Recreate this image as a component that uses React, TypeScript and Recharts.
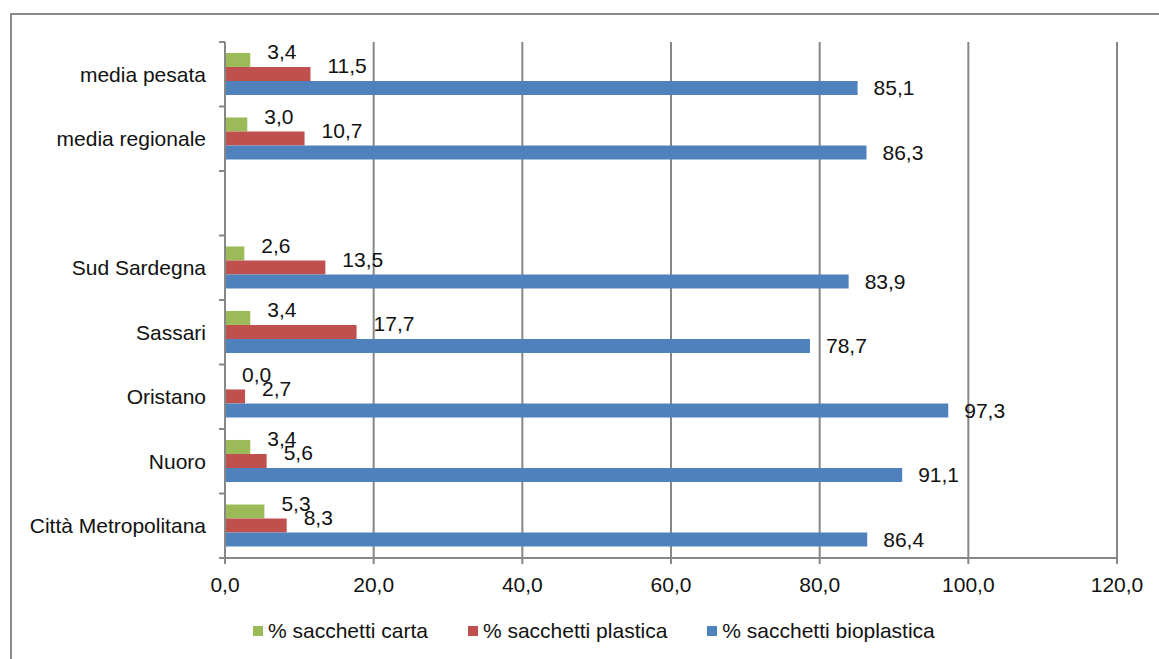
import { BarChart, Bar, XAxis, YAxis, CartesianGrid, Legend, LabelList } from 'recharts'

const CATEGORIES = ['media pesata', 'media regionale', ' ', 'Sud Sardegna', 'Sassari', 'Oristano', 'Nuoro', 'Città Metropolitana']
const CARTA = [3.4, 3.0, null, 2.6, 3.4, 0.0, 3.4, 5.3]
const PLASTICA = [11.5, 10.7, null, 13.5, 17.7, 2.7, 5.6, 8.3]
const BIOPLASTICA = [85.1, 86.3, null, 83.9, 78.7, 97.3, 91.1, 86.4]
const X_TICKS = [0, 20, 40, 60, 80, 100, 120]

const SERIES = [
  { key: 'carta', name: '% sacchetti carta', color: '#9BBB59' },
  { key: 'plastica', name: '% sacchetti plastica', color: '#C0504D' },
  { key: 'bioplastica', name: '% sacchetti bioplastica', color: '#4F81BD' },
]

const data = CATEGORIES.map((name, i) => ({
  name,
  carta: CARTA[i],
  plastica: PLASTICA[i],
  bioplastica: BIOPLASTICA[i],
}))

const W = 1159
const H = 659
const Y_AXIS_W = 225
const TOP = 42
const PLOT_BOTTOM = 558
const X_AXIS_H = 40
const GRID = '#878787'
const FONT = '"Liberation Sans", Arial, sans-serif'
const BAND = (PLOT_BOTTOM - TOP) / CATEGORIES.length

const fmt = (v: number) => v.toFixed(1).replace('.', ',')

function CategoryTick(props: any) {
  const { y, payload, index } = props
  return (
    <g>
      <line x1={Y_AXIS_W - 6} x2={Y_AXIS_W} y1={y - BAND / 2} y2={y - BAND / 2} stroke={GRID} strokeWidth={2} />
      {index === CATEGORIES.length - 1 && (
        <line x1={Y_AXIS_W - 6} x2={Y_AXIS_W} y1={y + BAND / 2} y2={y + BAND / 2} stroke={GRID} strokeWidth={2} />
      )}
      <text x={Y_AXIS_W - 19} y={y} textAnchor="end" dominantBaseline="central" fontSize={21} fill="#111">
        {payload.value}
      </text>
    </g>
  )
}

const barLabel = (dx: number, dy: number) => (props: any) => {
  const { x, y, width, height, value } = props
  if (value === null || value === undefined) return null
  return (
    <text x={x + (width || 0) + dx} y={y + height / 2 + dy} dominantBaseline="central" fontSize={21} fill="#111">
      {fmt(Number(value))}
    </text>
  )
}

function LegendContent() {
  return (
    <div style={{ display: 'flex', alignItems: 'center', fontSize: 21, color: '#111', fontFamily: FONT, whiteSpace: 'nowrap' }}>
      {SERIES.map(s => (
        <span key={s.key} style={{ display: 'flex', alignItems: 'center', marginRight: 40 }}>
          <span style={{ width: 10, height: 10, background: s.color, marginRight: 5, display: 'inline-block' }} />
          {s.name}
        </span>
      ))}
    </div>
  )
}

export default function App() {
  return (
    <div style={{ position: 'absolute', left: 0, top: 0, width: W, height: H, overflow: 'hidden', background: '#fff', fontFamily: FONT }}>
      <div style={{ position: 'absolute', left: 10, top: 13, width: W + 40, height: H + 40, borderLeft: '2px solid #8a8a8a', borderTop: '2px solid #8a8a8a' }} />
      <div style={{ position: 'absolute', left: 0, top: 0 }}>
        <BarChart
          width={W}
          height={H}
          data={data}
          layout="vertical"
          barGap={0}
          barCategoryGap="17%"
          margin={{ top: TOP, right: W - 1117, left: 0, bottom: H - PLOT_BOTTOM - X_AXIS_H }}
        >
          <CartesianGrid horizontal={false} vertical stroke={GRID} strokeWidth={2} />
          <XAxis
            type="number"
            domain={[0, 120]}
            ticks={X_TICKS}
            tickFormatter={fmt}
            height={X_AXIS_H}
            tickSize={6}
            tickMargin={13}
            axisLine={{ stroke: GRID, strokeWidth: 2 }}
            tickLine={{ stroke: GRID, strokeWidth: 2 }}
            tick={{ fontSize: 21, fill: '#111' }}
          />
          <YAxis
            type="category"
            dataKey="name"
            width={Y_AXIS_W}
            axisLine={{ stroke: GRID, strokeWidth: 2 }}
            tickLine={false}
            tick={<CategoryTick />}
            interval={0}
          />
          <Legend
            layout="horizontal"
            verticalAlign="middle"
            align="center"
            wrapperStyle={{ left: 253, top: 619, width: 800 }}
            content={<LegendContent />}
          />
          <Bar dataKey="carta" name={SERIES[0].name} fill={SERIES[0].color} minPointSize={0.01} isAnimationActive={false}>
            <LabelList dataKey="carta" content={barLabel(17, -8)} />
          </Bar>
          <Bar dataKey="plastica" name={SERIES[1].name} fill={SERIES[1].color} isAnimationActive={false}>
            <LabelList dataKey="plastica" content={barLabel(17, -8)} />
          </Bar>
          <Bar dataKey="bioplastica" name={SERIES[2].name} fill={SERIES[2].color} isAnimationActive={false}>
            <LabelList dataKey="bioplastica" content={barLabel(16, 0)} />
          </Bar>
        </BarChart>
      </div>
    </div>
  )
}
